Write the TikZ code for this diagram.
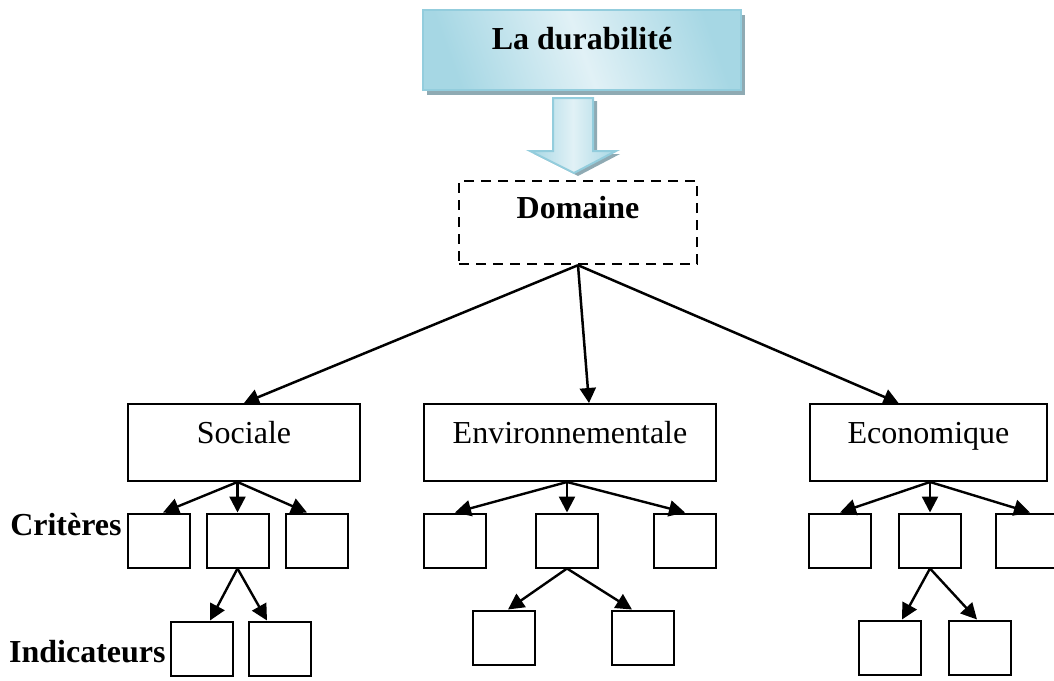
\documentclass[tikz,border=0pt]{standalone}
\usepackage{fontspec}
\setmainfont{Liberation Serif}
\usepackage{xcolor}
\usepackage{tikz}
\usetikzlibrary{arrows.meta,shadows}

\definecolor{aqualine}{HTML}{93CDDD}
\definecolor{aquadark}{HTML}{A6D7E4}
\definecolor{aqualight}{HTML}{E1F1F6}
\definecolor{aquashadow}{HTML}{8FAAB3}

\begin{document}
\begin{tikzpicture}[x=0.5pt, y=-0.5pt,
  font=\fontsize{16}{19}\selectfont,
  titlebox/.style={rectangle, draw=aqualine, line width=1pt, left color=aquadark, right color=aquadark, middle color=aqualight, shading angle=110, general shadow={fill=aquashadow, shadow xshift=2pt, shadow yshift=-2.5pt}, minimum width=159pt, minimum height=40pt, font=\fontsize{16}{19}\selectfont\bfseries, text height=11pt, text depth=11.4pt},
  bigarrow/.style={draw=aqualine, line width=1pt, left color=aquadark, right color=aquadark, middle color=aqualight, general shadow={fill=aquashadow, shadow xshift=2pt, shadow yshift=-1.5pt}},
  dombox/.style={rectangle, draw=black, line width=1.2pt, dash pattern=on 5pt off 3.5pt, minimum width=119pt, minimum height=41.5pt, font=\fontsize{16}{19}\selectfont\bfseries, text height=11pt, text depth=15.4pt},
  dimbox/.style={rectangle, draw=black, line width=1pt, minimum height=38.5pt, text height=11pt, text depth=10.4pt},
  crit/.style={rectangle, draw=black, line width=1pt, minimum width=31pt, minimum height=27pt},
  lbl/.style={anchor=base east, inner sep=0pt, font=\fontsize{16}{19}\selectfont\bfseries},
  arrow/.style={-{Triangle[length=7.5pt, width=8pt]}, line width=1.25pt, color=black},
  sarrow/.style={-{Triangle[length=8pt, width=8pt]}, line width=1.2pt, color=black}
]
\useasboundingbox (0,0) rectangle (1054,680);

% Top: title and domain
\node[titlebox] (dur) at (582,50) {La durabilit\'e};
\node[dombox] (dom) at (578,222.5) {Domaine};

\draw[bigarrow] ([xshift=-4.5pt, yshift=-3.5pt]dur.south) ++(-20,0) -- ++(0,53) -- ++(-23,0) -- ++(44,22) -- ++(42,-22) -- ++(-23,0) -- ++(0,-53) -- cycle;

% The three dimensions
\node[dimbox, minimum width=116pt] (soc) at (244,442.5) {Sociale};
\node[dimbox, minimum width=146pt] (env) at (570,442.5) {Environnementale};
\node[dimbox, minimum width=118.5pt] (eco) at (928.5,442.5) {Economique};

\draw[arrow] (dom.south) -- (soc.north);
\draw[arrow] (dom.south) -- ([xshift=9.5pt]env.north);
\draw[arrow] (dom.south) -- ([xshift=-15pt]eco.north);

% Row labels
\node[lbl] (critlbl) at (122,535) {Crit\`eres};
\node[lbl] (indlbl) at (166,662) {Indicateurs};

% Sociale: criteria and indicators
\node[crit] (s1) at (159,540.5) {};
\node[crit] (s2) at (237.5,540.5) {};
\node[crit] (s3) at (317,540.5) {};
\node[crit] (sa) at (201.5,648.5) {};
\node[crit] (sb) at (280,648.5) {};

\draw[sarrow] (s2.north |- soc.south) -- ([xshift=2pt]s1.north);
\draw[sarrow] (s2.north |- soc.south) -- (s2.north);
\draw[sarrow] (s2.north |- soc.south) -- ([xshift=-5pt]s3.north);
\draw[sarrow] (s2.south) -- ([xshift=4.25pt]sa.north);
\draw[sarrow] (s2.south) -- ([xshift=-6.5pt]sb.north);

% Environnementale: criteria and indicators
\node[crit] (e1) at (455,540.5) {};
\node[crit] (e2) at (567,540.5) {};
\node[crit] (e3) at (685,540.5) {};
\node[crit] (ea) at (503.5,637.5) {};
\node[crit] (eb) at (642.5,637.5) {};

\draw[sarrow] (e2.north |- env.south) -- (e1.north);
\draw[sarrow] (e2.north |- env.south) -- (e2.north);
\draw[sarrow] (e2.north |- env.south) -- (e3.north);
\draw[sarrow] (e2.south) -- ([xshift=2.25pt]ea.north);
\draw[sarrow] (e2.south) -- ([xshift=-5.25pt]eb.north);

% Economique: criteria and indicators
\node[crit] (c1) at (840,540.5) {};
\node[crit] (c2) at (930,540.5) {};
\node[crit] (c3) at (1027,540.5) {};
\node[crit] (ca) at (890,647.5) {};
\node[crit] (cb) at (980,647.5) {};

\draw[sarrow] (c2.north |- eco.south) -- (c1.north);
\draw[sarrow] (c2.north |- eco.south) -- (c2.north);
\draw[sarrow] (c2.north |- eco.south) -- ([xshift=1.5pt]c3.north);
\draw[sarrow] (c2.south) -- ([xshift=6pt]ca.north);
\draw[sarrow] (c2.south) -- ([xshift=-1.5pt]cb.north);

\end{tikzpicture}
\end{document}
